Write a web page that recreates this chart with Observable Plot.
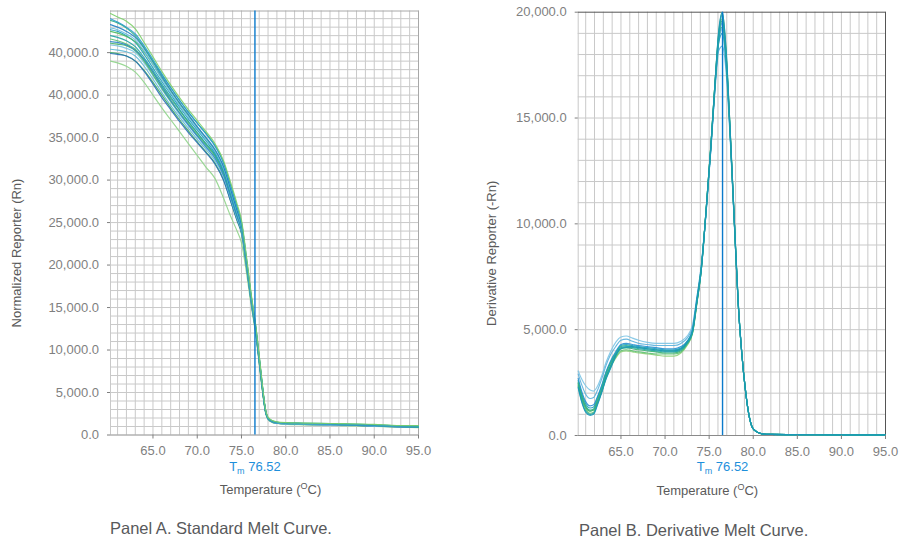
<!DOCTYPE html>
<html><head><meta charset="utf-8">
<script src="https://cdn.jsdelivr.net/npm/d3@7"></script>
<script src="https://cdn.jsdelivr.net/npm/@observablehq/plot@0.6"></script>
<style>
body{margin:0;background:#fff;font-family:"Liberation Sans",Arial,sans-serif;}
#wrap{position:relative;width:899px;height:539px;overflow:hidden;}
#a{position:absolute;left:0;top:0;}
#b{position:absolute;left:449px;top:0;}
.cap{position:absolute;font-size:16.5px;line-height:1;color:#58595b;white-space:nowrap;}
</style></head><body>
<div id="wrap"><div id="a"></div><div id="b"></div>
<div class="cap" style="left:110px;top:520px">Panel A. Standard Melt Curve.</div>
<div class="cap" style="left:579px;top:522px">Panel B. Derivative Melt Curve.</div></div>
<script>
// ---------- DATA ----------
const tm = 76.52;
const xTicks = [65, 70, 75, 80, 85, 90, 95];
const yTicksA = [0, 5000, 10000, 15000, 20000, 25000, 30000, 35000, 40000, 45000];
const yLabelsA = ["0.0","5,000.0","10,000.0","15,000.0","20,000.0","25,000.0","30,000.0","35,000.0","40,000.0","40,000.0"];
const yTicksB = [0, 5000, 10000, 15000, 20000];
const yLabelsB = ["0.0","5,000.0","10,000.0","15,000.0","20,000.0"];

// Panel A: temperatures (°C) and normalized reporter (thousands Rn)
const tempsA = [60.2,61,62,63,64,65,66,67,68,69,70,71,72,73,73.75,74.5,75,75.65,76.1,76.6,77,77.35,77.7,78,78.5,79,80,82,85,88,90,92,95];
const A01 = [49.6,49.2,48.7,47.8,46.2,44.5,42.8,41.2,39.7,38.3, 37.0,35.7,34.3,32.2,29.8,27.2,25.3,20.3,16.6,13.0, 9.4,6.0,3.1,2.1,1.7,1.55,1.45,1.40,1.35,1.30, 1.25,1.15,1.10];
const A02 = [49.0,48.6,48.0,47.2,45.8,44.2,42.5,40.9,39.4,38.0, 36.7,35.4,34.0,31.9,29.4,26.8,25.0,20.0,16.3,12.8, 9.2,5.9,3.0,2.0,1.65,1.5,1.4,1.35,1.3,1.22, 1.18,1.1,1.05];
const A03 = [48.3,48.0,47.5,46.8,45.5,43.9,42.2,40.6,39.1,37.7, 36.3,35.0,33.6,31.5,29.0,26.4,24.7,19.8,16.2,12.7, 9.1,5.8,3.0,2.0,1.6,1.5,1.4,1.35,1.3,1.2, 1.15,1.1,1.05];
const A04 = [47.9,47.7,47.2,46.5,45.2,43.6,41.9,40.3,38.8,37.4, 36.1,34.8,33.4,31.3,28.8,26.2,24.5,19.6,16.0,12.6, 9.0,5.8,3.0,2.0,1.6,1.45,1.35,1.3,1.25,1.2, 1.15,1.08,1.0];
const A05 = [47.5,47.3,46.9,46.3,45.1,43.6,42.0,40.5,39.0,37.6, 36.2,34.9,33.5,31.4,28.9,26.3,24.6,19.7,16.1,12.6, 9.0,5.8,3.0,2.0,1.6,1.5,1.4,1.35,1.3,1.22, 1.15,1.1,1.0];
const A06 = [47.0,46.8,46.4,45.7,44.4,42.9,41.3,39.8,38.3,36.9, 35.6,34.3,33.0,30.9,28.5,26.0,24.3,19.5,15.9,12.5, 8.9,5.7,2.9,1.95,1.55,1.45,1.35,1.3,1.25,1.18, 1.12,1.05,0.95];
const A07 = [46.3,46.2,45.9,45.3,44.2,42.7,41.0,39.4,37.9,36.5, 35.2,33.9,32.6,30.5,28.1,25.7,24.1,19.4,15.8,12.4, 8.8,5.6,2.9,1.95,1.55,1.4,1.35,1.3,1.25,1.15, 1.1,1.02,0.95];
const A08 = [46.1,46.0,45.8,45.2,44.0,42.4,40.8,39.3,37.9,36.6, 35.3,34.1,32.8,30.7,28.3,25.8,24.2,19.4,15.8,12.4, 8.8,5.6,2.9,1.95,1.55,1.45,1.35,1.3,1.25,1.18, 1.12,1.05,0.95];
const A09 = [45.4,45.3,45.1,44.6,43.4,41.9,40.3,38.8,37.4,36.1, 34.8,33.6,32.3,30.3,27.9,25.5,24.0,19.3,15.7,12.3, 8.7,5.5,2.8,1.9,1.5,1.4,1.3,1.25,1.2,1.12, 1.05,1.0,0.9];
const A10 = [44.9,44.8,44.6,44.0,42.8,41.3,39.7,38.3,36.9,35.6, 34.4,33.2,31.9,29.9,27.6,25.3,23.8,19.2,15.6,12.2, 8.6,5.5,2.8,1.9,1.5,1.4,1.3,1.25,1.2,1.12, 1.05,0.98,0.9];
const A11 = [44.0,43.8,43.4,42.7,41.5,40.0,38.5,37.1,35.7,34.3, 32.9,31.5,30.2,27.8,25.8,24.0,22.6,18.5,15.2,11.9, 8.4,5.3,2.7,1.8,1.45,1.35,1.25,1.2,1.15,1.08, 1.0,0.95,0.85];
const A12 = [48.8,48.5,47.9,47.0,45.6,44.0,42.4,40.9,39.4,38.0, 36.7,35.5,34.1,32.0,29.5,26.9,25.0,20.1,16.4,12.9, 9.3,6.0,3.1,2.05,1.65,1.5,1.45,1.4,1.35,1.28, 1.2,1.12,1.05];
const A13 = [47.7,47.5,47.0,46.2,44.8,43.2,41.6,40.1,38.6,37.2, 35.9,34.6,33.2,31.1,28.7,26.2,24.5,19.6,16.0,12.5, 8.9,5.7,2.9,1.95,1.6,1.45,1.38,1.32,1.27,1.2, 1.13,1.06,1.0];
const A14 = [46.6,46.4,46.0,45.4,44.1,42.6,41.1,39.6,38.2,36.8, 35.5,34.2,32.9,30.8,28.4,25.9,24.2,19.5,15.9,12.4, 8.8,5.6,2.9,1.95,1.55,1.45,1.35,1.3,1.25,1.18, 1.12,1.04,0.95];
const A15 = [45.9,45.8,45.5,45.0,43.8,42.3,40.7,39.2,37.7,36.4, 35.1,33.8,32.5,30.4,28.0,25.6,24.0,19.3,15.7,12.3, 8.7,5.5,2.8,1.9,1.5,1.4,1.3,1.25,1.2,1.15, 1.08,1.0,0.92];
const A16 = [45.0,44.9,44.6,44.0,42.9,41.5,40.0,38.5,37.1,35.8, 34.5,33.3,32.0,30.0,27.6,25.2,23.7,19.1,15.5,12.1, 8.6,5.4,2.8,1.9,1.5,1.4,1.3,1.25,1.2,1.12, 1.05,0.98,0.9];
const seriesA = [A11,A16,A10,A09,A15,A08,A14,A07,A06,A13,A05,A04,A03,A12,A02,A01];
const colorsA = ["#8fd48a","#3aaa60","#2a6fb8","#5fb8d6","#7ac3e2","#48b86a","#5cc070","#2e86c8","#1fa3a3","#1c9cc0","#4cbb5f","#6bbce0","#1f7fc4","#30ae8a","#2a9bd0","#7ccf6a"];

// Panel B: temperatures (°C) and derivative reporter (thousands -Rn)
const tempsB = [60.15,60.5,61,61.5,61.9,62.3,62.8,63.3,63.8,64.4,65,65.6,66.3,67,68,69,70,71,71.8,72.5,73.1,73.6,74.1,74.7,75.2,75.7,76.1,76.5,76.9,77.4,77.9,78.3,78.7,79.1,79.5,79.9,80.4,81,82,85,90,95];
const B01 = [3.05,2.7,2.35,2.15,2.1,2.3,2.8,3.45,3.95,4.4, 4.65,4.7,4.6,4.5,4.4,4.35,4.35,4.35,4.45,4.7, 5.2,6.5,8.0,10.8,13.6,16.7,18.6,19.2,17.6,14.0, 9.6,6.2,3.9,2.2,1.0,0.38,0.17,0.09,0.05,0.04, 0.03,0.03];
const B02 = [2.3,1.7,1.15,1.0,1.05,1.45,2.05,2.75,3.25,3.8, 4.1,4.15,4.15,4.1,4.05,4.0,3.95,3.95,4.05,4.35, 4.85,6.3,7.8,10.9,13.7,16.9,19.0,19.9,18.1,14.2, 9.7,6.2,3.9,2.2,1.0,0.38,0.17,0.08,0.05,0.04, 0.03,0.03];
const B03 = [2.4,1.8,1.25,1.05,1.1,1.5,2.05,2.7,3.2,3.7, 4.0,4.05,4.0,3.95,3.9,3.85,3.85,3.85,3.95,4.3, 4.8,6.2,7.8,10.9,13.7,16.9,19.1,20.0,18.3,14.3, 9.8,6.3,3.9,2.2,1.0,0.38,0.17,0.08,0.05,0.04, 0.03,0.03];
const B04 = [2.7,2.15,1.6,1.4,1.45,1.8,2.35,3.0,3.5,3.95, 4.3,4.35,4.3,4.25,4.2,4.15,4.1,4.1,4.2,4.45, 4.95,6.4,7.9,10.8,13.6,16.7,18.7,19.5,18.0,14.1, 9.7,6.2,3.9,2.2,1.0,0.38,0.17,0.08,0.05,0.04, 0.03,0.03];
const B05 = [2.9,2.45,1.95,1.75,1.8,2.1,2.65,3.3,3.8,4.2, 4.5,4.55,4.45,4.35,4.3,4.25,4.25,4.25,4.35,4.6, 5.1,6.5,8.0,10.8,13.5,16.5,18.2,18.4,17.3,13.9, 9.6,6.2,3.9,2.2,1.0,0.38,0.17,0.08,0.05,0.04, 0.03,0.03];
const B06 = [2.5,1.95,1.4,1.2,1.25,1.65,2.2,2.9,3.4,3.85, 4.2,4.25,4.2,4.15,4.1,4.05,4.0,4.0,4.1,4.4, 4.9,6.3,7.9,10.9,13.7,16.8,18.9,19.6,18.1,14.2, 9.7,6.2,3.9,2.2,1.0,0.38,0.17,0.08,0.05,0.04, 0.03,0.03];
const B07 = [2.35,1.8,1.3,1.15,1.2,1.55,2.05,2.7,3.2,3.65, 3.95,4.0,3.95,3.9,3.85,3.8,3.75,3.75,3.9,4.25, 4.8,6.2,7.8,10.9,13.8,16.9,19.0,19.7,18.2,14.2, 9.7,6.2,3.9,2.2,1.0,0.38,0.17,0.08,0.05,0.04, 0.03,0.03];
const B08 = [2.6,2.05,1.5,1.3,1.35,1.75,2.3,2.95,3.45,3.9, 4.25,4.3,4.25,4.2,4.15,4.1,4.05,4.05,4.15,4.45, 4.95,6.35,7.9,10.8,13.6,16.7,18.6,19.0,17.7,14.1, 9.7,6.2,3.9,2.2,1.0,0.38,0.17,0.08,0.05,0.04, 0.03,0.03];
const B09 = [2.25,1.65,1.1,0.95,1.0,1.4,2.0,2.65,3.15,3.75, 4.15,4.2,4.2,4.15,4.1,4.05,4.0,4.0,4.1,4.4, 4.9,6.3,7.8,10.9,13.7,16.9,19.2,20.0,18.4,14.3, 9.8,6.3,3.9,2.2,1.0,0.38,0.17,0.08,0.05,0.04, 0.03,0.03];
const B10 = [2.45,1.9,1.35,1.15,1.2,1.6,2.15,2.8,3.3,3.8, 4.1,4.15,4.1,4.05,4.0,3.95,3.9,3.9,4.0,4.35, 4.85,6.25,7.8,10.9,13.7,16.8,18.8,19.3,17.9,14.1, 9.7,6.2,3.9,2.2,1.0,0.38,0.17,0.08,0.05,0.04, 0.03,0.03];
const seriesB = [B01,B05,B07,B03,B10,B04,B08,B06,B02,B09];
const colorsB = ["#7cc4e4","#5ab0dc","#8fd27a","#5cc070","#3bb273","#2a8fd0","#1c9cc0","#30ae8a","#1fa3a3","#1a98b8"];

// ---------- STYLE ----------
const FONT = "'Liberation Sans', Arial, sans-serif";
const GRID = "#c9c9c9";
const TICKC = "#7f7f7f";
const TITLEC = "#5a5a5a";
const TMC = "#0b7acb";
const TMTEXT = "#1e8fdb";

function fixLabels(svg) {
  d3.select(svg).selectAll("text").each(function() {
    const t = this.textContent;
    if (t === "Tm " + tm) {
      this.textContent = "";
      const s = d3.select(this);
      s.append("tspan").text("T");
      s.append("tspan").attr("font-size", "9px").attr("dy", "3").text("m");
      s.append("tspan").attr("dy", "-3").text(" " + tm);
    } else if (t === "Temperature (OC)") {
      this.textContent = "";
      const s = d3.select(this);
      s.append("tspan").text("Temperature (");
      s.append("tspan").attr("font-size", "9px").attr("dy", "-5").text("O");
      s.append("tspan").attr("dy", "5").text("C)");
    }
  });
  return svg;
}

function panel(opts) {
  const {width, height, mL, mR, mT, mB, xDomain, yDomain, gridY, temps, series, colors, yTicks, yLabels,
         ylabel, ylabelDx, ylabelDy, xlabelDx, curve, topRight, tickPadX} = opts;
  const marks = [
    Plot.ruleX(d3.range(61, 96), {stroke: GRID, strokeWidth: 1}),
    Plot.ruleY(gridY, {stroke: GRID, strokeWidth: 1}),
    Plot.ruleX([xDomain[0]], {stroke: GRID}),
    Plot.ruleX([xDomain[1]], {stroke: topRight, strokeWidth: 1}),
    Plot.ruleY([yDomain[1]], {stroke: topRight, strokeWidth: 1}),
    Plot.ruleY([0], {stroke: "#8a8a8a", strokeWidth: 1}),
    ...series.map((vals, i) => Plot.line(vals, {
      x: (d, j) => temps[j], y: d => d * 1000,
      stroke: colors[i], strokeWidth: 1.15, strokeOpacity: 0.9, curve
    })),
    Plot.ruleX([tm], {stroke: TMC, strokeWidth: 1.4}),
    Plot.axisX({ticks: xTicks, tickFormat: d => d.toFixed(1), tickSize: 4, tickPadding: tickPadX,
      label: null, color: TICKC, fontSize: 13}),
    Plot.axisY({ticks: yTicks, tickFormat: d => yLabels[yTicks.indexOf(d)], tickSize: 3, tickPadding: 8.5,
      label: null, color: TICKC, fontSize: 13}),
    Plot.text([tm], {x: d => d, frameAnchor: "bottom", dy: 35.5, text: d => "Tm " + d,
      fill: TMTEXT, fontSize: 13}),
    Plot.text(["Temperature (OC)"], {frameAnchor: "bottom", dy: 59, dx: xlabelDx, text: d => d,
      fill: TITLEC, fontSize: 13, textAnchor: "middle"}),
    Plot.text([ylabel], {frameAnchor: "left", rotate: -90, dx: ylabelDx, dy: ylabelDy, text: d => d,
      fill: TITLEC, fontSize: 13, textAnchor: "middle"})
  ];
  const svg = Plot.plot({
    width, height, marginLeft: mL, marginRight: mR, marginTop: mT, marginBottom: mB,
    style: {fontFamily: FONT, fontSize: "13px", background: "transparent", overflow: "visible"},
    x: {domain: xDomain},
    y: {domain: yDomain},
    marks
  });
  return fixLabels(svg);
}

document.getElementById("a").appendChild(panel({
  width: 449, height: 510, mL: 110, mR: 31, mT: 10.5, mB: 75.5,
  xDomain: [60.2, 95], yDomain: [0, 49900], gridY: d3.range(1000, 50000, 1000),
  temps: tempsA, series: seriesA, colors: colorsA, yTicks: yTicksA, yLabels: yLabelsA,
  ylabel: "Normalized Reporter (Rn)", ylabelDx: -94, ylabelDy: 30, xlabelDx: 6,
  curve: "monotone-x", topRight: "#a8a8a8", tickPadX: 6.5
}));

document.getElementById("b").appendChild(panel({
  width: 450, height: 510, mL: 128.7, mR: 14, mT: 11.7, mB: 75,
  xDomain: [60.15, 95], yDomain: [0, 20000], gridY: d3.range(1000, 20000, 1000),
  temps: tempsB, series: seriesB, colors: colorsB, yTicks: yTicksB, yLabels: yLabelsB,
  ylabel: "Derivative Reporter (-Rn)", ylabelDx: -86, ylabelDy: 29.5, xlabelDx: -24.5,
  curve: "monotone-x", topRight: "#555555", tickPadX: 7.5
}));
</script>
</body></html>
